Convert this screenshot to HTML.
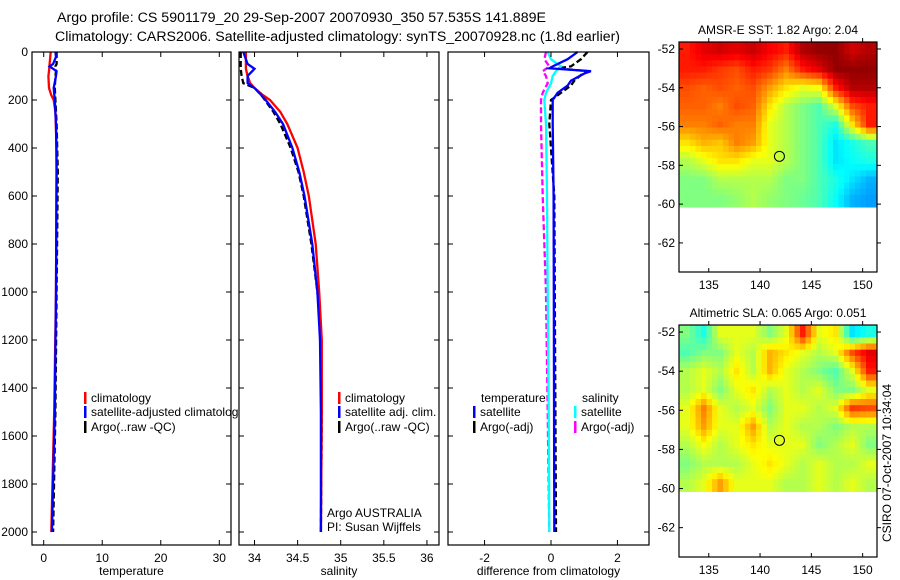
<!DOCTYPE html>
<html><head><meta charset="utf-8"><style>
html,body{margin:0;padding:0;background:#fff;}
svg{display:block;font-family:"Liberation Sans",sans-serif;}
</style></head><body>
<svg id="fig" width="900" height="580" viewBox="0 0 900 580" xmlns="http://www.w3.org/2000/svg">
<text x="57" y="22" font-size="13.5" textLength="489" lengthAdjust="spacingAndGlyphs">Argo profile: CS 5901179_20 29-Sep-2007 20070930_350 57.535S 141.889E</text>
<text x="55" y="41" font-size="13.5" textLength="565" lengthAdjust="spacingAndGlyphs">Climatology: CARS2006. Satellite-adjusted climatology: synTS_20070928.nc (1.8d earlier)</text>
<g id="layer"></g>
</svg>
<script>
// ---------- data ----------
const tempDepths = [0,50,80,100,150,180,200,250,400,1000,1500,2000];
const tempClim = [1.2,1.0,0.9,0.8,0.9,1.3,1.7,2.0,2.2,2.1,1.8,1.3];
const tempSatDepths = [0,20,50,60,80,100,150,200,300,500,1000,1500,2000];
const tempSat = [2.0,2.1,1.6,1.0,2.2,2.1,1.7,1.9,2.1,2.2,2.1,1.9,1.4];
const tempArgo = [2.2,2.2,2.2,2.0,2.1,2.0,1.9,2.0,2.2,2.4,2.2,2.0,1.6];
const salDepths = [0,50,70,100,130,150,180,200,250,300,400,500,600,800,1000,1200,1500,2000];
const salClim = [33.9,33.9,33.9,33.92,33.95,34.0,34.1,34.18,34.3,34.38,34.5,34.57,34.63,34.71,34.75,34.78,34.78,34.77];
const salSat = [33.87,33.92,34.0,33.92,33.92,34.0,34.08,34.13,34.24,34.33,34.44,34.52,34.58,34.67,34.73,34.76,34.77,34.77];
const salArgo = [33.84,33.84,33.84,33.85,33.87,34.0,34.08,34.12,34.22,34.3,34.42,34.51,34.57,34.66,34.73,34.77,34.78,34.77];
const dTempDepths = [0,30,60,68,80,90,120,140,170,200,300,600,2000];
const dTempSat = [0.8,0.5,0.05,-0.05,1.2,1.0,0.6,0.5,0.2,0.05,0.05,0.08,0.1];
const dTempArgo = [1.1,0.9,0.6,0.2,1.1,0.95,0.7,0.6,0.3,0.0,-0.05,0.1,0.15];
const dSalDepths = [0,30,60,80,100,130,170,200,300,600,1000,1500,2000];
const dSalSat = [-0.1,0.0,0.3,0.15,0.05,0.0,-0.15,-0.2,-0.15,-0.12,-0.1,-0.07,-0.05];
const dSalArgo = [-0.15,-0.2,-0.05,-0.25,-0.15,-0.1,-0.25,-0.3,-0.3,-0.25,-0.15,-0.1,-0.05];
const depthTicks = [0,200,400,600,800,1000,1200,1400,1600,1800,2000];
const tempTicks = [0,10,20,30];
const salTicks = [34,34.5,35,35.5,36];
const salTickLabels = ["34","34.5","35","35.5","36"];
const diffTicks = [-2,0,2];
const latTicks = [52,54,56,58,60,62];
const lonTicks = [135,140,145,150];
const sstGrid = [
[0.85,0.9,0.92,0.9,0.93,0.88,0.85,0.95,0.98,0.98,0.92,0.95],
[0.85,0.85,0.82,0.8,0.85,0.82,0.75,0.85,0.9,0.98,0.98,0.98],
[0.8,0.78,0.8,0.78,0.8,0.72,0.65,0.6,0.62,0.85,0.95,0.95],
[0.78,0.78,0.75,0.8,0.78,0.65,0.55,0.5,0.45,0.6,0.8,0.85],
[0.75,0.75,0.78,0.75,0.75,0.6,0.55,0.5,0.45,0.4,0.65,0.85],
[0.65,0.7,0.68,0.75,0.72,0.6,0.55,0.5,0.45,0.35,0.4,0.45],
[0.55,0.6,0.65,0.65,0.6,0.6,0.55,0.5,0.45,0.35,0.38,0.4],
[0.5,0.5,0.55,0.55,0.55,0.55,0.5,0.5,0.45,0.4,0.35,0.3],
[0.5,0.5,0.5,0.52,0.55,0.52,0.5,0.48,0.45,0.38,0.3,0.28]];
const slaGrid = [
[0.5,0.4,0.6,0.6,0.6,0.5,0.6,0.85,0.6,0.65,0.35,0.4],
[0.45,0.5,0.5,0.6,0.55,0.7,0.65,0.6,0.55,0.6,0.8,0.9],
[0.55,0.6,0.55,0.65,0.55,0.7,0.6,0.55,0.5,0.45,0.6,0.85],
[0.55,0.6,0.5,0.6,0.65,0.55,0.6,0.55,0.6,0.5,0.5,0.6],
[0.6,0.75,0.6,0.55,0.6,0.5,0.6,0.6,0.55,0.6,0.82,0.8],
[0.6,0.72,0.6,0.6,0.72,0.55,0.6,0.55,0.55,0.5,0.55,0.55],
[0.55,0.62,0.55,0.6,0.65,0.6,0.6,0.6,0.5,0.55,0.6,0.5],
[0.5,0.55,0.55,0.55,0.6,0.65,0.6,0.55,0.6,0.55,0.55,0.6],
[0.55,0.6,0.72,0.6,0.6,0.6,0.55,0.55,0.6,0.55,0.6,0.55]];
const argoLon = 141.889, argoLat = 57.535;

// ---------- helpers ----------
const NS="http://www.w3.org/2000/svg";
const layer=document.getElementById('layer');
function mk(tag,attrs,parent){const e=document.createElementNS(NS,tag);for(const k in attrs)e.setAttribute(k,attrs[k]);(parent||layer).appendChild(e);return e;}
const TOP=52,BOT=545;
const yD=d=>TOP+d*0.24;
function lin(d0,d1,p0,p1){return v=>p0+(v-d0)/(d1-d0)*(p1-p0);}
function jet(v){v=Math.max(0,Math.min(1,v));const r=Math.max(0,Math.min(1,Math.min(4*v-1.5,-4*v+4.5)));const g=Math.max(0,Math.min(1,Math.min(4*v-0.5,-4*v+3.5)));const b=Math.max(0,Math.min(1,Math.min(4*v+0.5,-4*v+2.5)));return `rgb(${Math.round(r*255)},${Math.round(g*255)},${Math.round(b*255)})`;}

function panel(name,L,R){
  const g=mk('g',{});
  
  
  const r=mk('rect',{x:L,y:TOP,width:R-L,height:BOT-TOP,fill:'#fff',stroke:'none'},g);
  
  
  return g;
}
function frame(g,name,L,R,xs,ticks,labels,xlabel,showY){
  mk('rect',{x:L,y:TOP,width:R-L,height:BOT-TOP,fill:'none',stroke:'#000','stroke-width':1.2},g);
  ticks.forEach((t,i)=>{const x=xs(t);
    mk('line',{x1:x,y1:BOT,x2:x,y2:BOT-5,stroke:'#000'},g);
    mk('line',{x1:x,y1:TOP,x2:x,y2:TOP+5,stroke:'#000'},g);
    const tx=mk('text',{x:x,y:BOT+17,'font-size':12,'text-anchor':'middle'},g);tx.textContent=labels[i];
    
    });
  depthTicks.forEach(d=>{const y=yD(d);
    mk('line',{x1:L,y1:y,x2:L+5,y2:y,stroke:'#000'},g);
    mk('line',{x1:R,y1:y,x2:R-5,y2:y,stroke:'#000'},g);
    if(showY){const tx=mk('text',{x:L-4,y:y+4,'font-size':12,'text-anchor':'end'},g);tx.textContent=d;
      
      }});
  const xl=mk('text',{x:(L+R)/2,y:575,'font-size':12,'text-anchor':'middle'},g);xl.textContent=xlabel;
  
  
}
function line(g,name,depths,vals,xs,color,dash){
  const pts=depths.map((d,i)=>xs(vals[i]).toFixed(1)+','+yD(d).toFixed(1)).join(' ');
  const p=mk('polyline',{points:pts,fill:'none',stroke:color,'stroke-width':2.3,'stroke-dasharray':dash||'none'},g);
  
  
}
function legend(g,name,x,y,color,label){
  mk('rect',{x:x,y:y-10,width:2.5,height:12,fill:color},g);
  const t=mk('text',{x:x+7,y:y,'font-size':12},g);t.textContent=label;
  
  
}

// Panel 1 temperature
const xT=lin(-2,32,32,231);
const p1=panel('temperature-panel',32,231);
line(p1,'temp-argo-line',tempSatDepths,tempArgo,xT,'#000','6,3');
line(p1,'temp-climatology-line',tempDepths,tempClim,xT,'#f00');
line(p1,'temp-satellite-line',tempSatDepths,tempSat,xT,'#00f');
frame(p1,'temperature',32,231,xT,tempTicks,tempTicks.map(String),'temperature',true);
legend(p1,'legend-climatology',84,402,'#f00','climatology');
legend(p1,'legend-satellite-adjusted',84,416,'#00f','satellite-adjusted climatology');
legend(p1,'legend-argo',84,431,'#000','Argo(..raw -QC)');

// Panel 2 salinity
const xS=lin(33.82,36.14,239,439);
const p2=panel('salinity-panel',239,439);
line(p2,'sal-argo-line',salDepths,salArgo,xS,'#000','6,3');
line(p2,'sal-climatology-line',salDepths,salClim,xS,'#f00');
line(p2,'sal-satellite-line',salDepths,salSat,xS,'#00f');
frame(p2,'salinity',239,439,xS,salTicks,salTickLabels,'salinity',false);
legend(p2,'legend-sal-climatology',338,402,'#f00','climatology');
legend(p2,'legend-sal-satellite',338,416,'#00f','satellite adj. clim.');
legend(p2,'legend-sal-argo',338,431,'#000','Argo(..raw -QC)');
[['Argo AUSTRALIA',517],['PI: Susan Wijffels',531]].forEach(a=>{const t=mk('text',{x:327,y:a[1],'font-size':12},p2);t.textContent=a[0];
  
  });

// Panel 3 difference
const xDf=lin(-3.1,2.95,448,649);
const p3=panel('difference-panel',448,649);
line(p3,'diff-sal-argo-line',dSalDepths,dSalArgo,xDf,'#f0f','6,3');
line(p3,'diff-temp-argo-line',dTempDepths,dTempArgo,xDf,'#000','6,3');
line(p3,'diff-sal-satellite-line',dSalDepths,dSalSat,xDf,'#0ff');
line(p3,'diff-temp-satellite-line',dTempDepths,dTempSat,xDf,'#00f');
frame(p3,'difference',448,649,xDf,diffTicks,diffTicks.map(String),'difference from climatology',false);
{const t=mk('text',{x:481,y:402,'font-size':12},p3);t.textContent='temperature';
 const s=mk('text',{x:582,y:402,'font-size':12},p3);s.textContent='salinity';}
legend(p3,'legend-diff-temp-satellite',473,416,'#00f','satellite');
legend(p3,'legend-diff-temp-argo',473,431,'#000','Argo(-adj)');
legend(p3,'legend-diff-sal-satellite',574,416,'#0ff','satellite');
legend(p3,'legend-diff-sal-argo',574,431,'#f0f','Argo(-adj)');

// Maps
function sample(grid,fy,fx){
  const rows=grid.length,cols=grid[0].length;
  const y=Math.max(0,Math.min(rows-1,fy)),x=Math.max(0,Math.min(cols-1,fx));
  const i0=Math.floor(y),j0=Math.floor(x),i1=Math.min(rows-1,i0+1),j1=Math.min(cols-1,j0+1);
  const ty=y-i0,tx=x-j0;
  const a=grid[i0][j0]*(1-tx)+grid[i0][j1]*tx, b=grid[i1][j0]*(1-tx)+grid[i1][j1]*tx;
  return a*(1-ty)+b*ty;
}
function map(name,top,bottom,grid,title){
  const L=679,R=877;
  const xs=lin(132.1,151.4,L,R);
  const ys=lin(51.64,63.5,top,bottom);
  const g=mk('g',{});
  
  
  const rows=grid.length,cols=grid[0].length;
  const y0=top,y1=ys(60.15);
  const SUB=3, nr=rows*SUB, nc=cols*SUB;
  const cw=(R-L)/nc,ch=(y1-y0)/nr;
  for(let i=0;i<nr;i++)for(let j=0;j<nc;j++){
    const v=sample(grid,(i+0.5)/SUB-0.5,(j+0.5)/SUB-0.5);
    const c=mk('rect',{x:(L+j*cw).toFixed(2),y:(y0+i*ch).toFixed(2),width:(cw+0.5).toFixed(2),height:(ch+0.5).toFixed(2),fill:jet(v)},g);
    
    
  }
  mk('rect',{x:L,y:top,width:R-L,height:bottom-top,fill:'none',stroke:'#000','stroke-width':1.2},g);
  latTicks.forEach(t=>{const y=ys(t);
    mk('line',{x1:L,y1:y,x2:L+4,y2:y,stroke:'#000'},g);
    mk('line',{x1:R,y1:y,x2:R+4,y2:y,stroke:'#000'},g);
    const tx=mk('text',{x:L-4,y:y+4,'font-size':12,'text-anchor':'end'},g);tx.textContent='-'+t;
    
    });
  lonTicks.forEach(t=>{const x=xs(t);
    mk('line',{x1:x,y1:bottom,x2:x,y2:bottom-4,stroke:'#000'},g);
    mk('line',{x1:x,y1:top,x2:x,y2:top-4,stroke:'#000'},g);
    const tx=mk('text',{x:x,y:bottom+17,'font-size':12,'text-anchor':'middle'},g);tx.textContent=t;
    
    });
  const c=mk('circle',{cx:xs(argoLon),cy:ys(argoLat),r:5,fill:'none',stroke:'#000','stroke-width':1},g);
  
  
  const tt=mk('text',{x:(L+R)/2,y:top-8,'font-size':12,'text-anchor':'middle'},g);tt.textContent=title;
  
  
}
map('sst-map',42,272,sstGrid,'AMSR-E SST: 1.82 Argo: 2.04');
map('sla-map',325,557,slaGrid,'Altimetric SLA: 0.065 Argo: 0.051');
{const t=mk('text',{x:0,y:0,'font-size':12,'text-anchor':'middle',transform:'translate(891,463) rotate(-90)'});t.textContent='CSIRO 07-Oct-2007 10:34:04';
 
 }
</script>
</body></html>
